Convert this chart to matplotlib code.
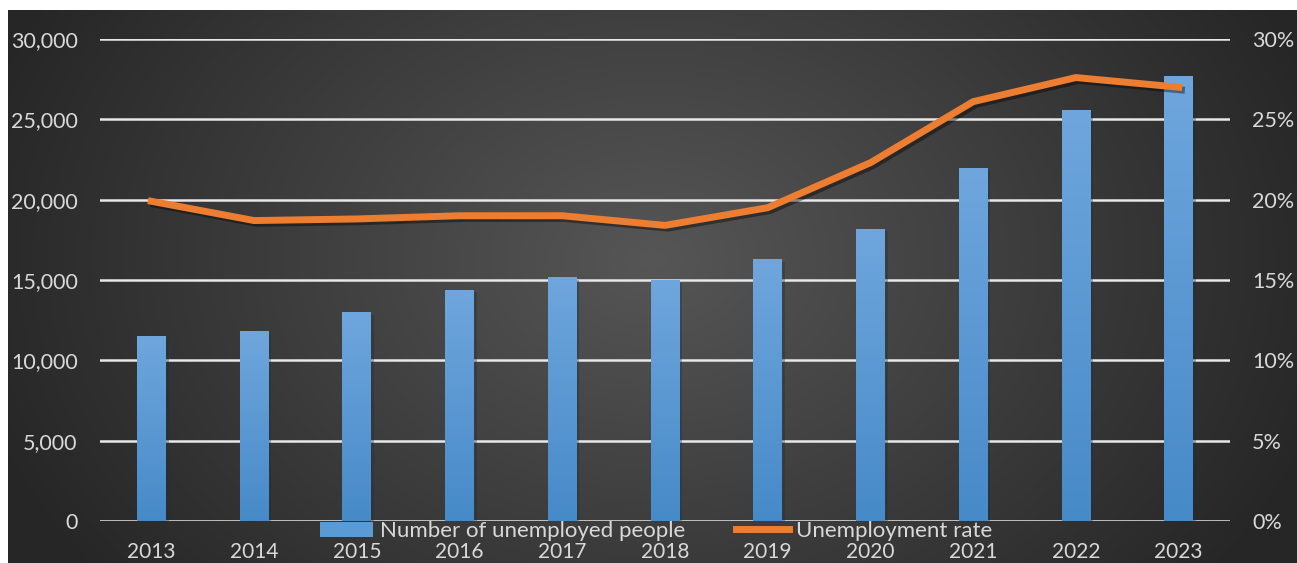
import matplotlib
matplotlib.use("Agg")
import matplotlib.pyplot as plt
import numpy as np
import matplotlib.patheffects as pe
from matplotlib.ticker import FuncFormatter, MultipleLocator
from matplotlib.lines import Line2D
from matplotlib.patches import Patch

years = ["2013", "2014", "2015", "2016", "2017", "2018", "2019", "2020", "2021", "2022", "2023"]
unemployed = [11500, 11800, 13000, 14400, 15200, 15000, 16300, 18200, 22000, 25600, 27700]
rate = [19.9, 18.7, 18.8, 19.0, 19.0, 18.4, 19.5, 22.3, 26.1, 27.6, 27.0]

W, H = 1297, 563
fig = plt.figure(figsize=(W / 100, H / 100), dpi=100)
fig.patch.set_facecolor("white")

plt.rcParams['font.family'] = ['Lato', 'DejaVu Sans']
txt = "#d9d9d9"

# background radial gradient
bg = fig.add_axes([8 / W, 0, 1 - 8 / W, (H - 10) / H], zorder=-5)
ny, nx = 300, 700
yy, xx = np.mgrid[0:ny, 0:nx]
cx, cy = nx * 0.50, ny * 0.45
r = np.sqrt(((xx - cx) / (nx * 0.55)) ** 2 + ((yy - cy) / (ny * 0.95)) ** 2)
r = np.clip(r, 0, 1)
inner = np.array([0x56, 0x56, 0x56]) / 255
outer = np.array([0x26, 0x26, 0x26]) / 255
img = inner[None, None, :] * (1 - r[..., None]) + outer[None, None, :] * r[..., None]
bg.imshow(img, aspect="auto", extent=[0, 1, 0, 1], interpolation="bilinear")
bg.set_axis_off()

ax = fig.add_axes([100 / W, (H - 521) / H, 1130 / W, 482 / H])
ax.set_facecolor("none")
x = np.arange(len(years))

bars = ax.bar(x, unemployed, width=0.28, color="#5b9bd5", zorder=3,
              path_effects=[pe.SimplePatchShadow(offset=(2, -2), alpha=0.35), pe.Normal()])
# gradient fill inside bars
grad = np.linspace(0, 1, 256)[:, None]
top_c = np.array([111, 166, 221]) / 255
bot_c = np.array([70, 138, 200]) / 255
gimg = top_c[None, None, :] * (1 - grad[..., None]) + bot_c[None, None, :] * grad[..., None]
for b in bars:
    bx, by = b.get_x(), b.get_y()
    im = ax.imshow(gimg, extent=[bx, bx + b.get_width(), by, by + b.get_height()],
                   aspect="auto", zorder=3.1, interpolation="bilinear")
    im.set_clip_path(b)

ax.set_xlim(-0.5, len(years) - 0.5)
ax.set_ylim(0, 30000)
ax.yaxis.set_major_locator(MultipleLocator(5000))
ax.yaxis.set_major_formatter(FuncFormatter(lambda v, p: f"{int(v):,}"))
ax.grid(axis="y", color="#e8e8e8", linewidth=1.8, zorder=1)
ax.set_axisbelow(True)
for s in ax.spines.values():
    s.set_visible(False)
ax.tick_params(axis="both", length=0, colors=txt)
ax.tick_params(axis="y", pad=16, labelsize=15.5)
ax.tick_params(axis="x", pad=15, labelsize=15)
ax.set_xticks(x)
ax.set_xticklabels(years)

ax2 = ax.twinx()
ax2.set_ylim(0, 30)
ax2.yaxis.set_major_locator(MultipleLocator(5))
ax2.yaxis.set_major_formatter(FuncFormatter(lambda v, p: f"{int(v)}%"))
for s in ax2.spines.values():
    s.set_visible(False)
ax2.tick_params(axis="y", length=0, colors=txt, labelsize=15.5, pad=16)
ax2.plot(x, rate, color="#ed7d31", linewidth=5, solid_joinstyle="miter", zorder=4,
         path_effects=[pe.SimpleLineShadow(offset=(2, -2), alpha=0.4), pe.Normal()])

handles = [Patch(facecolor="#5b9bd5", edgecolor="none"),
           Line2D([0], [0], color="#ed7d31", linewidth=5)]
fig.legend(handles, ["Number of unemployed people", "Unemployment rate"],
           loc="center", bbox_to_anchor=(656 / W, (H - 531) / H), ncol=2, frameon=False,
           fontsize=16, labelcolor=txt, handlelength=2.4, handleheight=0.65,
           handletextpad=0.3, columnspacing=2.3, borderpad=0)

fig.savefig("out.png", dpi=100, facecolor=fig.get_facecolor())
